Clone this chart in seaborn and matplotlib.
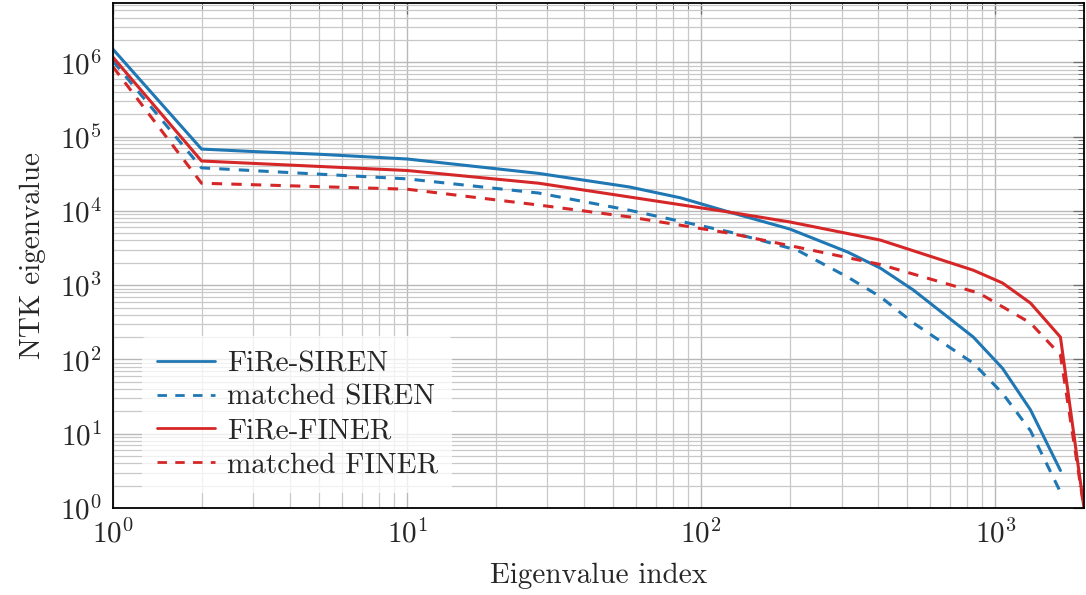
import matplotlib
matplotlib.use("Agg")
import matplotlib.pyplot as plt
import seaborn as sns
import pandas as pd
import numpy as np
from matplotlib.ticker import LogLocator, NullFormatter

# ---- data ----
fire_siren_x = [1, 2, 3, 5, 10, 28, 57, 85, 125, 200, 314, 406, 526, 841, 1057, 1315, 1663]
fire_siren_y = [1.5e6, 6.8e4, 6.3e4, 5.8e4, 5.0e4, 3.2e4, 2.1e4, 1.5e4, 9600, 5700, 2800, 1700, 860, 200, 76, 21, 3.2]

matched_siren_x = [1, 2, 10, 28, 57, 125, 212, 314, 406, 526, 841, 1057, 1315, 1663]
matched_siren_y = [1.04e6, 3.8e4, 2.7e4, 1.74e4, 1.02e4, 5200, 2960, 1290, 700, 310, 89, 35, 11, 1.64]

fire_finer_x = [1, 2, 10, 28, 125, 200, 406, 841, 1057, 1315, 1663, 2000]
fire_finer_y = [1.17e6, 4.7e4, 3.5e4, 2.36e4, 9600, 7100, 4050, 1590, 1070, 575, 200, 1.0]

matched_finer_x = [1, 2, 10, 28, 57, 125, 212, 406, 880, 1315, 1663, 2000]
matched_finer_y = [8.7e5, 2.36e4, 1.96e4, 1.2e4, 8300, 5000, 3250, 1900, 780, 310, 115, 1.0]

series_names = ["FiRe-SIREN", "matched SIREN", "FiRe-FINER", "matched FINER"]
x_lists = [fire_siren_x, matched_siren_x, fire_finer_x, matched_finer_x]
y_lists = [fire_siren_y, matched_siren_y, fire_finer_y, matched_finer_y]

BLUE = "#1f77b4"
RED = "#d62728"
DASH = (3.4, 3.0)
styles = {
    "FiRe-SIREN": (BLUE, None),
    "matched SIREN": (BLUE, DASH),
    "FiRe-FINER": (RED, None),
    "matched FINER": (RED, DASH),
}

sns.set_theme(style="white")
plt.rcParams["font.family"] = ["cmr10", "DejaVu Serif"]
plt.rcParams["mathtext.fontset"] = "cm"
plt.rcParams["axes.formatter.use_mathtext"] = True
plt.rcParams["axes.unicode_minus"] = False

FS = 21

fig = plt.figure(figsize=(10.86, 5.95), dpi=100)
ax = fig.add_axes([113 / 1086, 1 - 508 / 595, (1084 - 113) / 1086, (508 - 3) / 595])

for name, xs, ys in zip(series_names, x_lists, y_lists):
    df = pd.DataFrame({"idx": xs, "val": ys})
    color, dash = styles[name]
    sns.lineplot(x="idx", y="val", data=df, ax=ax, color=color, linewidth=2.2,
                 label=name, estimator=None, sort=False)
    if dash is not None:
        ax.lines[-1].set_dashes(dash)

ax.set_xscale("log")
ax.set_yscale("log")
ax.set_xlim(1, 2000)
ax.set_ylim(1, 6.3e6)

ax.xaxis.set_major_locator(LogLocator(base=10, numticks=10))
ax.xaxis.set_minor_locator(LogLocator(base=10, subs=np.arange(2, 10), numticks=20))
ax.yaxis.set_major_locator(LogLocator(base=10, numticks=10))
ax.yaxis.set_minor_locator(LogLocator(base=10, subs=np.arange(2, 10), numticks=20))
ax.xaxis.set_minor_formatter(NullFormatter())
ax.yaxis.set_minor_formatter(NullFormatter())

ax.grid(True, which="major", color="#b8b8b8", linewidth=1.0)
ax.grid(True, which="minor", color="#c8c8c8", linewidth=0.9)
ax.set_axisbelow(True)

ax.tick_params(which="both", direction="in", top=True, right=True, color="#6e6e6e")
ax.tick_params(which="major", length=8, width=0.9, labelsize=FS, pad=8)
ax.tick_params(which="minor", length=4.5, width=0.7)
for sp in ax.spines.values():
    sp.set_color("black")
    sp.set_linewidth(1.3)

ax.set_xlabel("Eigenvalue index", fontsize=FS, labelpad=10)
ax.set_ylabel("NTK eigenvalue", fontsize=FS, labelpad=10)

leg = ax.legend(loc="lower left", bbox_to_anchor=(0.03, 0.03), borderaxespad=0,
                fontsize=FS, frameon=True, handlelength=2.0, handletextpad=0.4,
                labelspacing=0.25, borderpad=0.5)
leg.get_frame().set_facecolor("white")
leg.get_frame().set_alpha(0.75)
leg.get_frame().set_edgecolor("none")
for lh, name in zip(leg.get_lines(), series_names):
    dash = styles[name][1]
    lh.set_linewidth(2.0)
    if dash is not None:
        lh.set_dashes(dash)

fig.savefig("out.png", dpi=100)
